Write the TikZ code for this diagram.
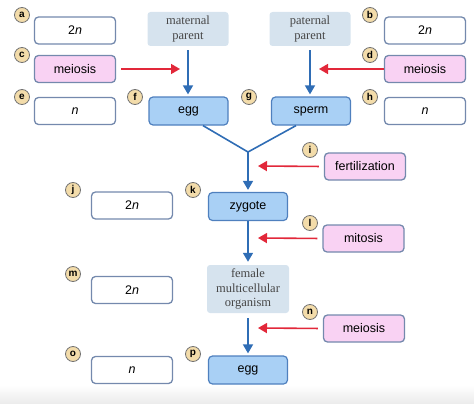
\documentclass[tikz,border=0pt]{standalone}
\usepackage{fontspec}
\setmainfont{Liberation Sans}
\newfontfamily\serifname{Liberation Serif}
\usetikzlibrary{arrows.meta}
\definecolor{blueline}{HTML}{2F6DB5}
\definecolor{redline}{HTML}{E2283A}
\definecolor{boxedge}{HTML}{7489AD}
\definecolor{pinkfill}{HTML}{F9D2F3}
\definecolor{cellfill}{HTML}{A9D0F5}
\definecolor{celledge}{HTML}{4F80BE}
\definecolor{parentfill}{HTML}{D6E3EE}
\definecolor{tagfill}{HTML}{F3DCAA}
\tikzset{
  answer/.style={draw=boxedge, line width=1.3pt, rounded corners=4pt, fill=white,
    minimum width=81pt, minimum height=27pt, inner sep=0pt, font=\fontsize{12.5}{14}\selectfont},
  process/.style={answer, fill=pinkfill},
  cell/.style={draw=celledge, line width=1.2pt, rounded corners=4pt, fill=cellfill,
    minimum width=79pt, minimum height=28pt, inner sep=0pt, font=\fontsize{12.5}{14}\selectfont},
  parent/.style={fill=parentfill, rounded corners=3pt, minimum width=81pt, minimum height=34pt,
    inner sep=0pt, align=center, text=black!72, font=\serifname\fontsize{12.5}{14.5}\selectfont},
  tag/.style={circle, draw=black!55, line width=0.8pt, fill=tagfill, minimum size=15pt,
    inner sep=0pt, font=\bfseries\fontsize{10}{10}\selectfont},
  flow/.style={->, draw=blueline, line width=1.6pt},
  cause/.style={->, draw=redline, line width=1.6pt},
}
\begin{document}
\begin{tikzpicture}[x=1pt, y=-1pt, line join=round, >={Triangle[width=10pt,length=9pt]}]
\useasboundingbox (0,0) rectangle (474,404);
\shade[top color=white, bottom color=black!8] (0,385) rectangle (474,404);

% main chain
\node[parent] (mat) at (188,29) {maternal\\parent};
\node[parent] (pat) at (310,29) {paternal\\parent};
\node[cell] (egg) at (188.5,111) {egg};
\node[cell] (sperm) at (311,111) {sperm};
\node[cell] (zyg) at (248,206.5) {zygote};
\node[parent, minimum width=82pt, minimum height=48pt] (fem) at (248,289) {female\\multicellular\\organism};
\node[cell] (egg2) at (248,370) {egg};

% answer boxes
\node[answer] (ba) at (75,30.5) {2\textit{n}};
\node[process] (bc) at (75,69) {meiosis};
\node[answer] (be) at (75,111) {\textit{n}};
\node[answer] (bb) at (425,30.5) {2\textit{n}};
\node[process] (bd) at (425,69) {meiosis};
\node[answer] (bh) at (425,111) {\textit{n}};
\node[process] (bi) at (365,166.5) {fertilization};
\node[answer] (bj) at (132,205.5) {2\textit{n}};
\node[process] (bl) at (363.5,238.5) {mitosis};
\node[answer] (bm) at (132,290) {2\textit{n}};
\node[process] (bn) at (364,328.5) {meiosis};
\node[answer] (bo) at (132,370) {\textit{n}};

% letter tags
\foreach \t/\x/\y in {a/22/15, c/22/55, e/22/97, f/135/97, b/370/15, d/370/55, g/249/97, h/370/97,
  i/310/150, j/73/190, k/193/190, l/310/223, m/73/274, n/310/312, o/73/354, p/193/354}
  \node[tag] (t\t) at (\x,\y) {\t};

\path (248,152) coordinate (V)
  (180,69) coordinate (cL) (319,69) coordinate (cR)
  (258,166) coordinate (cI) (258,238) coordinate (cM) (258,328) coordinate (cN);

\draw[flow, shorten <=4pt, shorten >=2pt] (mat.south) -- (mat.south |- egg.north);
\draw[flow, shorten <=4pt, shorten >=2pt] (pat.south) -- (pat.south |- sperm.north);
\draw[draw=blueline, line width=1.6pt] (egg.south -| 203,0) -- (V) -- (sperm.south -| 296,0);
\draw[flow, shorten >=2pt] (V) -- (zyg.north);
\draw[flow, shorten >=3pt] (zyg.south) -- (fem.north);
\draw[flow, shorten <=5pt, shorten >=2pt] (fem.south) -- (egg2.north);

\draw[cause, shorten <=5pt] (bc.east) -- (cL);
\draw[cause] (bd.west) -- (cR);
\draw[cause, shorten <=5pt] (bi.west) -- (cI);
\draw[cause, shorten <=5pt] (bl.west) -- (cM);
\draw[cause, shorten <=5pt] (bn.west) -- (cN);
\end{tikzpicture}
\end{document}
